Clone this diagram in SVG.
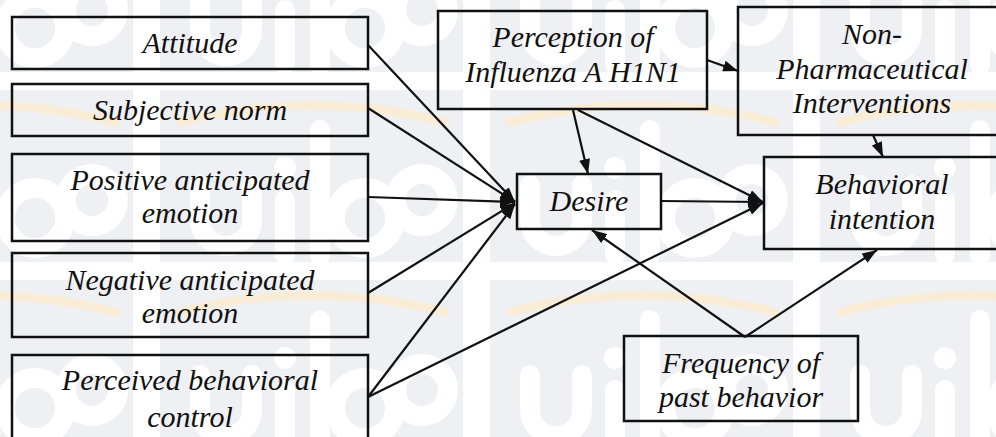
<svg xmlns="http://www.w3.org/2000/svg" width="996" height="437" viewBox="0 0 996 437">
  <defs>
    <!-- faint repeating logo tile behind the diagram -->
    <pattern id="wm" width="330" height="190" patternUnits="userSpaceOnUse" x="160" y="90">
      <rect width="330" height="190" fill="#ffffff"/>
      <rect x="0" y="0" width="303" height="172" fill="#eff0f3"/>
      <g fill="none" stroke="#ffffff" stroke-width="20" stroke-linecap="round">
        <path d="M40 95 V130 A26 26 0 0 0 92 130 V95"/>
        <path d="M125 110 V165"/>
        <path d="M160 40 V165"/>
        <circle cx="205" cy="128" r="30"/>
        <circle cx="262" cy="110" r="26"/>
      </g>
      <circle cx="125" cy="78" r="11" fill="#ffffff"/>
      <path d="M20 32 Q150 -2 285 32" fill="none" stroke="#fcecd0" stroke-width="9" stroke-linecap="round" opacity="0.8"/>
    </pattern>
    <marker id="ah" viewBox="0 0 15 11" refX="15" refY="5.5" markerWidth="15" markerHeight="11" markerUnits="userSpaceOnUse" orient="auto">
      <path d="M0 0 L15 5.5 L0 11 Z" fill="#111"/>
    </marker>
  </defs>
  <style>
    .box { fill: none; stroke: #111; stroke-width: 2.5; }
    .lbl { font-family: "Liberation Serif", "Times New Roman", serif; font-style: italic; font-size: 30px; fill: #111; text-anchor: middle; }
    .edge { fill: none; stroke: #111; stroke-width: 2.2; marker-end: url(#ah); }
  </style>

  <rect width="996" height="437" fill="url(#wm)"/>

  <g id="connectors">
    <path class="edge" d="M368 45 L515 202"/>
    <path class="edge" d="M368 108 L515 202"/>
    <path class="edge" d="M368 197 L515 202"/>
    <path class="edge" d="M368 293 L515 203"/>
    <path class="edge" d="M368 397 L515 204"/>
    <path class="edge" d="M368 397 L763 203"/>
    <path class="edge" d="M661 201 L763 202"/>
    <path class="edge" d="M573 110 L588 174"/>
    <path class="edge" d="M578 110 L763 202"/>
    <path class="edge" d="M707 60 L738 71"/>
    <path class="edge" d="M873 135 L883 157"/>
    <path class="edge" d="M745 337 L592 230"/>
    <path class="edge" d="M745 337 L877 250"/>
  </g>

  <g id="attitude">
    <rect class="box" x="12" y="17" width="356" height="52"/>
    <text class="lbl" x="190" y="53">Attitude</text>
  </g>
  <g id="subjective-norm">
    <rect class="box" x="12" y="84" width="356" height="52"/>
    <text class="lbl" x="190" y="120">Subjective norm</text>
  </g>
  <g id="positive-emotion">
    <rect class="box" x="12" y="154" width="356" height="87"/>
    <text class="lbl" x="190" y="190">Positive anticipated</text>
    <text class="lbl" x="190" y="223">emotion</text>
  </g>
  <g id="negative-emotion">
    <rect class="box" x="12" y="253" width="356" height="84"/>
    <text class="lbl" x="190" y="290">Negative anticipated</text>
    <text class="lbl" x="190" y="323">emotion</text>
  </g>
  <g id="perceived-control">
    <rect class="box" x="12" y="355" width="356" height="92"/>
    <text class="lbl" x="190" y="390">Perceived behavioral</text>
    <text class="lbl" x="190" y="427">control</text>
  </g>
  <g id="perception-h1n1">
    <rect class="box" x="438" y="11" width="269" height="98"/>
    <text class="lbl" x="573" y="47">Perception of</text>
    <text class="lbl" x="573" y="82">Influenza A H1N1</text>
  </g>
  <g id="desire">
    <rect class="box" x="517" y="174" width="144" height="55"/>
    <text class="lbl" x="589" y="211">Desire</text>
  </g>
  <g id="non-pharmaceutical">
    <rect class="box" x="738" y="7" width="270" height="128"/>
    <text class="lbl" x="872" y="44">Non-</text>
    <text class="lbl" x="872" y="79">Pharmaceutical</text>
    <text class="lbl" x="872" y="113">Interventions</text>
  </g>
  <g id="behavioral-intention">
    <rect class="box" x="764" y="157" width="244" height="92"/>
    <text class="lbl" x="882" y="194">Behavioral</text>
    <text class="lbl" x="882" y="229">intention</text>
  </g>
  <g id="past-behavior">
    <rect class="box" x="624" y="336" width="234" height="85"/>
    <text class="lbl" x="741" y="373">Frequency of</text>
    <text class="lbl" x="741" y="407">past behavior</text>
  </g>
</svg>
